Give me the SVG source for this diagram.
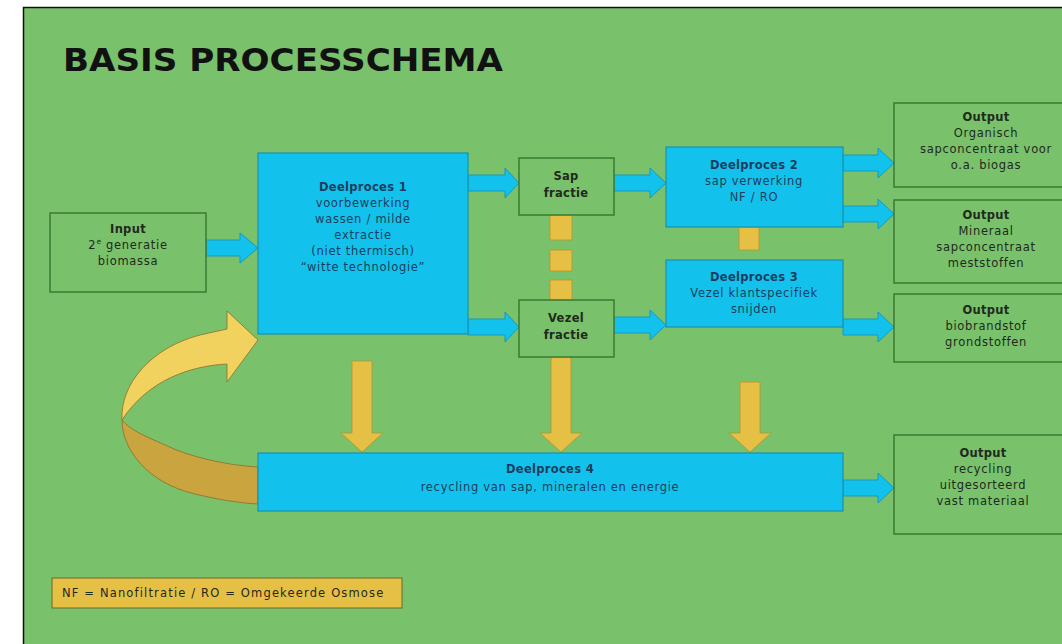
<svg xmlns="http://www.w3.org/2000/svg" width="1062" height="644" viewBox="0 0 1062 644">
<style>
.bg{fill:#79c16b}
.gbox{fill:#79c16b;stroke:#3d7a32;stroke-width:1.5}
.cbox{fill:#12c2ec;stroke:#1a8fb0;stroke-width:1.2}
.carrow{fill:#12c2ec;stroke:#1a98bd;stroke-width:1}
.gold{fill:#e6bf45;stroke:#b8942e;stroke-width:0.8}
text{font-family:"DejaVu Sans",Verdana,sans-serif;font-size:11.5px;letter-spacing:0.7px;text-anchor:middle}
.ct{fill:#1c3d5e}
.gt{fill:#1f2a1c}
.b{font-weight:bold;letter-spacing:0.3px}
.title{font-family:"DejaVu Sans",Verdana,sans-serif;font-size:32px;font-weight:bold;fill:#111;text-anchor:start;letter-spacing:0}
</style>
<rect x="0" y="0" width="1062" height="644" fill="#ffffff"/>
<rect class="bg" x="24" y="8" width="1040" height="640"/>
<path d="M23.5 644 V7.5 H1062" fill="none" stroke="#111" stroke-width="1.5"/>
<text class="title" x="63" y="71" textLength="440" lengthAdjust="spacingAndGlyphs">BASIS PROCESSCHEMA</text>

<g id="connectors">
  <polygon class="carrow" points="206,240 240,240 240,233 258,248 240,263 240,256 206,256"/>
  <polygon class="carrow" points="468,175 505,175 505,168 519,183 505,198 505,191 468,191"/>
  <polygon class="carrow" points="468,319 505,319 505,312 519,327 505,342 505,335 468,335"/>
  <polygon class="carrow" points="614,175 650,175 650,168 666,183 650,198 650,191 614,191"/>
  <polygon class="carrow" points="614,317 650,317 650,310 666,325 650,340 650,333 614,333"/>
  <polygon class="carrow" points="843,155 878,155 878,148 894,163 878,178 878,171 843,171"/>
  <polygon class="carrow" points="843,206 878,206 878,199 894,214 878,229 878,222 843,222"/>
  <polygon class="carrow" points="843,319 878,319 878,312 894,327 878,342 878,335 843,335"/>
  <polygon class="carrow" points="843,480 878,480 878,473 894,488 878,503 878,496 843,496"/>
  <rect class="gold" x="550" y="215" width="22" height="25"/>
  <rect class="gold" x="550" y="250" width="22" height="21"/>
  <rect class="gold" x="550" y="280" width="22" height="20"/>
  <rect class="gold" x="739" y="227" width="20" height="23"/>
  <polygon class="gold" points="352,361 372,361 372,433 383,433 362,452 341,433 352,433"/>
  <polygon class="gold" points="551,357 571,357 571,433 582,433 561,452 540,433 551,433"/>
  <polygon class="gold" points="740,382 760,382 760,433 771,433 750,452 729,433 740,433"/>
  <path d="M122,420 C122,450 148,483 195,494 C220,500 240,503 258,504 L258,467 C225,465 190,457 165,445 C145,436 130,430 122,420 Z" fill="#c9a43f" stroke="#8a7028" stroke-width="0.8"/>
  <path d="M122,420 C120,385 150,348 200,335 L227,329 L227,311 L258,340 L227,382 L227,364 C190,366 148,380 122,420 Z" fill="#f2d25e" stroke="#8a7028" stroke-width="0.8"/>
</g>

<g id="input">
  <rect class="gbox" x="50" y="213" width="156" height="79"/>
  <text class="gt b" x="128" y="233">Input</text>
  <text class="gt" x="128" y="249">2<tspan font-size="7.5" dy="-5">e</tspan><tspan dy="5"> generatie</tspan></text>
  <text class="gt" x="128" y="265">biomassa</text>
</g>

<g id="deelproces1">
  <rect class="cbox" x="258" y="153" width="210" height="181"/>
  <text class="ct b" x="363" y="191">Deelproces 1</text>
  <text class="ct" x="363" y="207">voorbewerking</text>
  <text class="ct" x="363" y="223">wassen / milde</text>
  <text class="ct" x="363" y="239">extractie</text>
  <text class="ct" x="363" y="255">(niet thermisch)</text>
  <text class="ct" x="363" y="271">“witte technologie”</text>
</g>

<g id="sap">
  <rect class="gbox" x="519" y="158" width="95" height="57"/>
  <text class="gt b" x="566" y="180">Sap</text>
  <text class="gt b" x="566" y="197">fractie</text>
</g>

<g id="vezel">
  <rect class="gbox" x="519" y="300" width="95" height="57"/>
  <text class="gt b" x="566" y="322">Vezel</text>
  <text class="gt b" x="566" y="339">fractie</text>
</g>

<g id="deelproces2">
  <rect class="cbox" x="666" y="147" width="177" height="80"/>
  <text class="ct b" x="754" y="169">Deelproces 2</text>
  <text class="ct" x="754" y="185">sap verwerking</text>
  <text class="ct" x="754" y="201">NF / RO</text>
</g>

<g id="deelproces3">
  <rect class="cbox" x="666" y="260" width="177" height="67"/>
  <text class="ct b" x="754" y="281">Deelproces 3</text>
  <text class="ct" x="754" y="297">Vezel klantspecifiek</text>
  <text class="ct" x="754" y="313">snijden</text>
</g>

<g id="deelproces4">
  <rect class="cbox" x="258" y="453" width="585" height="58"/>
  <text class="ct b" x="550" y="473">Deelproces 4</text>
  <text class="ct" x="550" y="491">recycling van sap, mineralen en energie</text>
</g>

<g id="output1">
  <rect class="gbox" x="894" y="103" width="190" height="84"/>
  <text class="gt b" x="986" y="121">Output</text>
  <text class="gt" x="986" y="137">Organisch</text>
  <text class="gt" x="986" y="153">sapconcentraat voor</text>
  <text class="gt" x="986" y="169">o.a. biogas</text>
</g>

<g id="output2">
  <rect class="gbox" x="894" y="200" width="190" height="83"/>
  <text class="gt b" x="986" y="219">Output</text>
  <text class="gt" x="986" y="235">Mineraal</text>
  <text class="gt" x="986" y="251">sapconcentraat</text>
  <text class="gt" x="986" y="267">meststoffen</text>
</g>

<g id="output3">
  <rect class="gbox" x="894" y="294" width="190" height="68"/>
  <text class="gt b" x="986" y="314">Output</text>
  <text class="gt" x="986" y="330">biobrandstof</text>
  <text class="gt" x="986" y="346">grondstoffen</text>
</g>

<g id="output4">
  <rect class="gbox" x="894" y="435" width="190" height="99"/>
  <text class="gt b" x="983" y="457">Output</text>
  <text class="gt" x="983" y="473">recycling</text>
  <text class="gt" x="983" y="489">uitgesorteerd</text>
  <text class="gt" x="983" y="505">vast materiaal</text>
</g>

<g id="legend">
  <rect x="52" y="578" width="350" height="30" fill="#e6bf45" stroke="#6b6a2a" stroke-width="1"/>
  <text class="gt" x="62" y="597" style="text-anchor:start" textLength="322" lengthAdjust="spacing">NF = Nanofiltratie / RO = Omgekeerde Osmose</text>
</g>
</svg>
